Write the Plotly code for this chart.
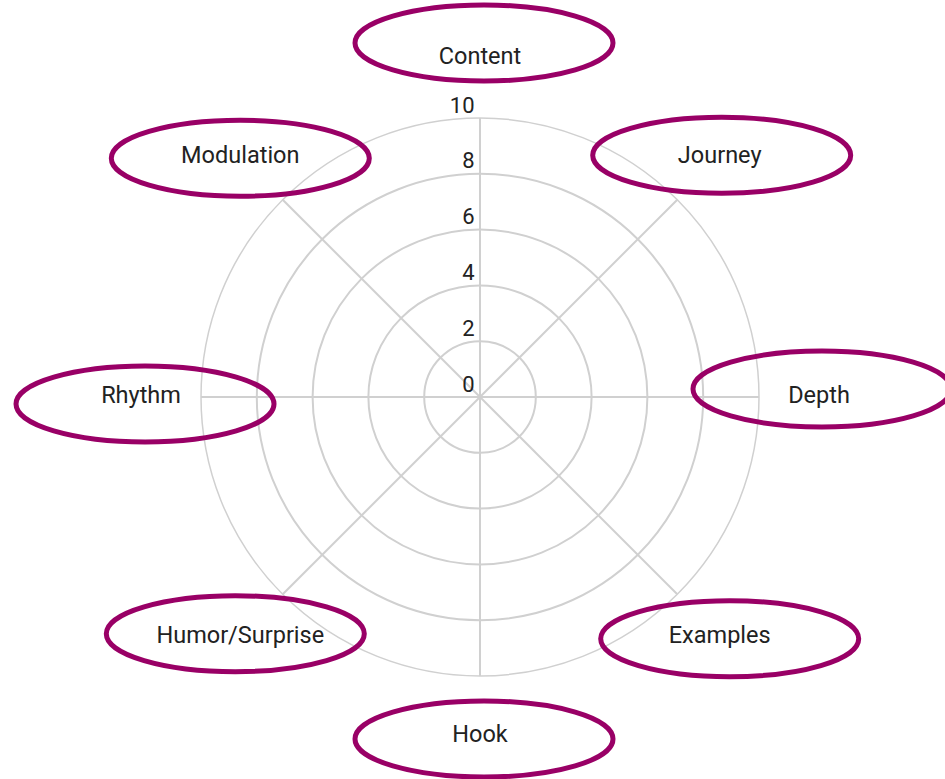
import math
import plotly.graph_objects as go

categories = ["Content", "Journey", "Depth", "Examples", "Hook",
              "Humor/Surprise", "Rhythm", "Modulation"]
radial_ticks = [0, 2, 4, 6, 8, 10]
tick_labels = ["0", "2", "4", "6", "8", "10"]
label_r = [12.15] * len(categories)

W, H = 945, 779
CX, CY, RPX = 480, 397, 279  # polar centre / radius in px
RMAX = 10
RLAB = 12.5  # range of the outer (label) polar

# small nudges of each ellipse relative to its label (px)
ell_dx = [4, 2, 3, 10, 4, -5, 4, 0]
ell_dy = [-15, -2, -8, 2, 3, -3, 7, 1]
ELL_W, ELL_H = 258, 76


def domain(radius_px):
    return dict(x=[(CX - radius_px) / W, (CX + radius_px) / W],
                y=[1 - (CY + radius_px) / H, 1 - (CY - radius_px) / H])


fig = go.Figure()

# radial tick labels up the Content spoke
fig.add_trace(go.Scatterpolar(
    r=radial_ticks,
    theta=[categories[0]] * len(radial_ticks),
    mode="text",
    text=[t + "\u00a0" for t in tick_labels],
    textposition="top left",
    textfont=dict(size=22, color="#222222"),
    cliponaxis=False,
    hoverinfo="skip",
    showlegend=False,
    subplot="polar",
))

# category labels sitting outside the grid
fig.add_trace(go.Scatterpolar(
    r=label_r,
    theta=categories,
    mode="text",
    text=categories,
    textposition="middle center",
    textfont=dict(size=23.5, color="#222222"),
    cliponaxis=False,
    hoverinfo="skip",
    showlegend=False,
    subplot="polar2",
))

# hand-drawn style ellipses around each label
shapes = []
for i, cat in enumerate(categories):
    ang = 2 * math.pi * i / len(categories)
    rpx = label_r[i] / RMAX * RPX
    px = CX + rpx * math.sin(ang) + ell_dx[i]
    py = CY - rpx * math.cos(ang) + ell_dy[i]
    shapes.append(dict(
        type="circle", xref="paper", yref="paper",
        x0=(px - ELL_W / 2) / W, x1=(px + ELL_W / 2) / W,
        y0=1 - (py + ELL_H / 2) / H, y1=1 - (py - ELL_H / 2) / H,
        line=dict(color="#990066", width=5),
        layer="above",
    ))

hidden_angular = dict(type="category", categoryarray=categories, rotation=90,
                      direction="clockwise", visible=False)

fig.update_layout(
    width=W,
    height=H,
    margin=dict(l=0, r=0, t=0, b=0),
    paper_bgcolor="white",
    plot_bgcolor="white",
    font=dict(family="Roboto", color="#222222"),
    shapes=shapes,
    polar=dict(
        domain=domain(RPX),
        bgcolor="rgba(0,0,0,0)",
        radialaxis=dict(
            range=[0, RMAX],
            tickvals=radial_ticks,
            showticklabels=False,
            ticks="",
            showline=False,
            gridcolor="#d0d0d0",
            gridwidth=1.5,
        ),
        angularaxis=dict(
            type="category",
            categoryarray=categories,
            rotation=90,
            direction="clockwise",
            showticklabels=False,
            ticks="",
            showline=True,
            linecolor="#d0d0d0",
            linewidth=1.5,
            gridcolor="#d0d0d0",
            gridwidth=1.5,
        ),
    ),
    polar2=dict(
        domain=domain(RPX * RLAB / RMAX),
        bgcolor="rgba(0,0,0,0)",
        radialaxis=dict(range=[0, RLAB], visible=False),
        angularaxis=hidden_angular,
    ),
)

# drop the page's default body margin so the figure starts at the window corner
fig.write_html("out.html",
               config={"displayModeBar": False},
               post_script="document.body.style.margin='0';"
                           "document.body.style.overflow='hidden';")
